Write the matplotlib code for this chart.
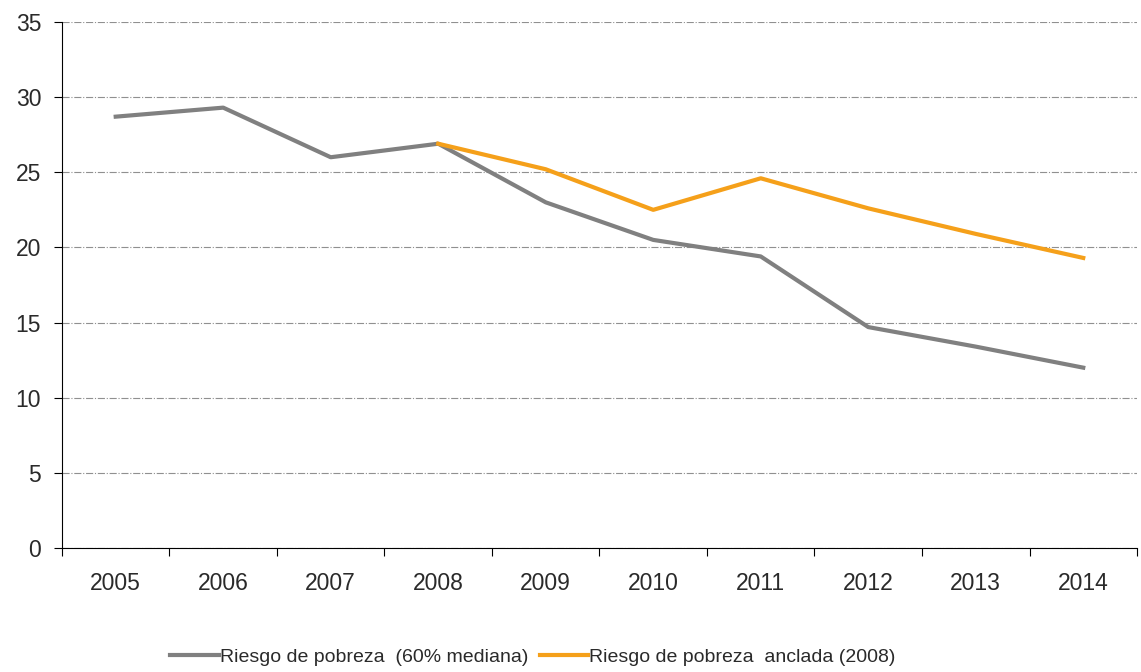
import matplotlib.pyplot as plt
import numpy as np

plt.rcParams['font.family'] = ['Liberation Sans', 'DejaVu Sans']

anios = ['2005', '2006', '2007', '2008', '2009', '2010', '2011', '2012', '2013', '2014']
riesgo_60 = [28.7, 29.3, 26.0, 26.9, 23.0, 20.5, 19.4, 14.7, 13.4, 12.0]
riesgo_anclada = [None, None, None, 26.9, 25.2, 22.5, 24.6, 22.6, 20.9, 19.3]

x = np.arange(len(anios))
anclada = np.array([np.nan if v is None else v for v in riesgo_anclada])

fig = plt.figure(figsize=(11.41, 6.72), dpi=100)
ax = fig.add_axes([0.0543, 0.1845, 0.9422, 0.7828])

ax.plot(x, riesgo_60, color='#808080', lw=3, label='Riesgo de pobreza  (60% mediana)')
ax.plot(x, anclada, color='#F5A01A', lw=3, label='Riesgo de pobreza  anclada (2008)')

ax.set_xlim(-0.5, len(anios) - 0.5)
ax.set_ylim(0, 35)
ax.set_yticks(range(0, 36, 5))
ax.yaxis.grid(True, linestyle='-.', color='#909090', lw=0.8)
ax.set_axisbelow(True)

# ticks del eje x entre categorias, etiquetas centradas
ax.set_xticks(np.arange(-0.5, len(anios), 1.0))
ax.set_xticklabels([])
ax.set_xticks(x, minor=True)
ax.set_xticklabels(anios, minor=True)
ax.tick_params(axis='x', which='minor', length=0, pad=17, labelsize=16.5, colors='#2a2a2a')
ax.tick_params(axis='x', which='major', length=6, direction='out')
ax.tick_params(axis='y', length=6, direction='out', pad=9, labelsize=16.5, labelcolor='#2a2a2a')

for s in ['top', 'right']:
    ax.spines[s].set_visible(False)

fig.legend(loc='center', bbox_to_anchor=(0.467, 0.022), ncol=2, frameon=False,
           fontsize=14, handlelength=2.5, handletextpad=0.05, columnspacing=0.6,
           labelcolor='#2a2a2a')

fig.savefig('out.png', dpi=100)
